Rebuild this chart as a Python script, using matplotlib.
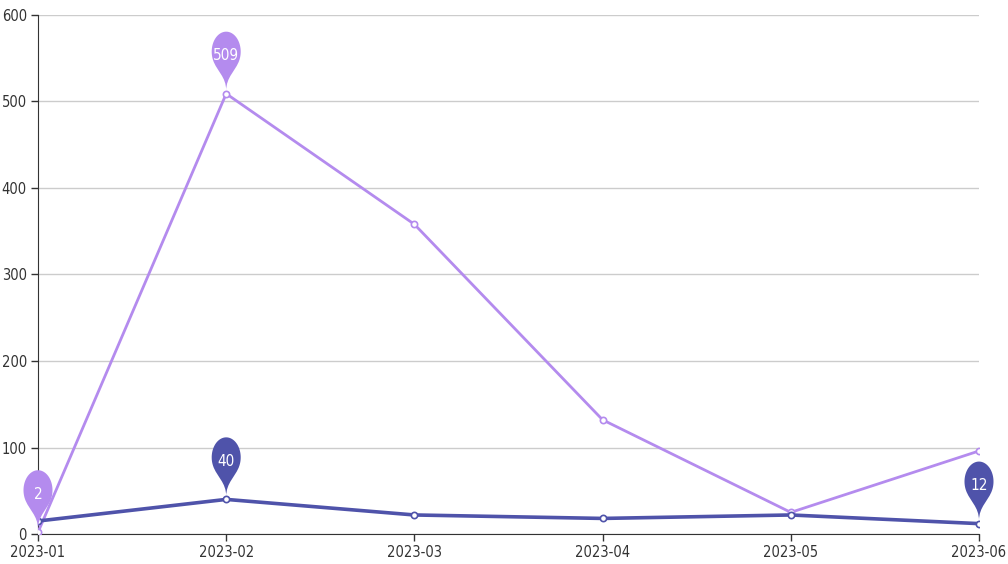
import numpy as np
import matplotlib
matplotlib.use("Agg")
import matplotlib.pyplot as plt
from matplotlib.path import Path
from matplotlib.patches import PathPatch
from matplotlib.transforms import Affine2D, ScaledTranslation

months = ["2023-01", "2023-02", "2023-03", "2023-04", "2023-05", "2023-06"]
purple_vals = [2, 509, 358, 132, 25, 96]
blue_vals = [15, 40, 22, 18, 22, 12]

purple = "#b48bee"
blue = "#4f53aa"

plt.rcParams["font.family"] = ["DejaVu Sans"]
plt.rcParams["font.stretch"] = "condensed"

fig = plt.figure(figsize=(10.08, 5.64), dpi=100)
ax = fig.add_axes([38 / 1008, 30 / 564, (979 - 38) / 1008, (534 - 15) / 564])

x = np.arange(len(months))
ax.plot(x, purple_vals, color=purple, lw=2, marker="o", ms=4.5,
        mfc="white", mec=purple, mew=1.2, zorder=3)
ax.plot(x, blue_vals, color=blue, lw=2.6, marker="o", ms=4.5,
        mfc="white", mec=blue, mew=1.2, zorder=4)

ax.set_xlim(0, len(months) - 1)
ax.set_ylim(0, 600)
ax.set_yticks(range(0, 601, 100))
ax.set_xticks(x)
ax.set_xticklabels(months)
ax.grid(axis="y", color="#cccccc", lw=1)
ax.set_axisbelow(True)
for s in ["top", "right"]:
    ax.spines[s].set_visible(False)
for s in ["left", "bottom"]:
    ax.spines[s].set_color("#333333")
ax.tick_params(axis="both", colors="#333333", labelsize=10.5, length=5, width=1)
ax.tick_params(axis="y", pad=3)
ax.tick_params(axis="x", pad=3)


def pin_path(r=14.5, h=48.9, stretch=1.38):
    # echarts-like pin, tip at origin, pointing down, sizes in pixels,
    # then stretched vertically to get the egg shape of the reference
    dy = r * r / (h - r)
    c = h - r - dy
    ang = np.arcsin(dy / r)
    dx = np.cos(ang) * r
    tx, ty = np.sin(ang), np.cos(ang)
    cp1, cp2 = r * 0.6, r * 0.7
    t = np.linspace(np.pi + ang, -ang, 60)
    arc = np.column_stack([r * np.cos(t), c + r * np.sin(t)])
    verts = list(arc)
    codes = [Path.MOVETO] + [Path.LINETO] * (len(arc) - 1)
    verts += [(dx - tx * cp1, c - dy - ty * cp1), (0, cp2), (0, 0)]
    codes += [Path.CURVE4] * 3
    verts += [(0, cp2), (-dx + tx * cp1, c - dy - ty * cp1), tuple(arc[0])]
    codes += [Path.CURVE4] * 3
    verts = np.array(verts)
    verts[:, 1] *= stretch
    return Path(verts, codes)


def add_pin(xi, yv, color, label):
    trans = Affine2D().translate(0, 3) + ScaledTranslation(xi, yv, ax.transData)
    patch = PathPatch(pin_path(), facecolor=color, edgecolor="none",
                      transform=trans, zorder=5, clip_on=False)
    ax.add_patch(patch)
    ax.text(0, 35, label, transform=trans, color="white", fontsize=11,
            ha="center", va="center", zorder=6, clip_on=False)


ip = int(np.argmax(purple_vals))
add_pin(ip, purple_vals[ip], purple, str(purple_vals[ip]))
ip = int(np.argmin(purple_vals))
add_pin(ip, purple_vals[ip], purple, str(purple_vals[ip]))
ib = int(np.argmax(blue_vals))
add_pin(ib, blue_vals[ib], blue, str(blue_vals[ib]))
ib = int(np.argmin(blue_vals))
add_pin(ib, blue_vals[ib], blue, str(blue_vals[ib]))

fig.savefig("out.png", dpi=100)
